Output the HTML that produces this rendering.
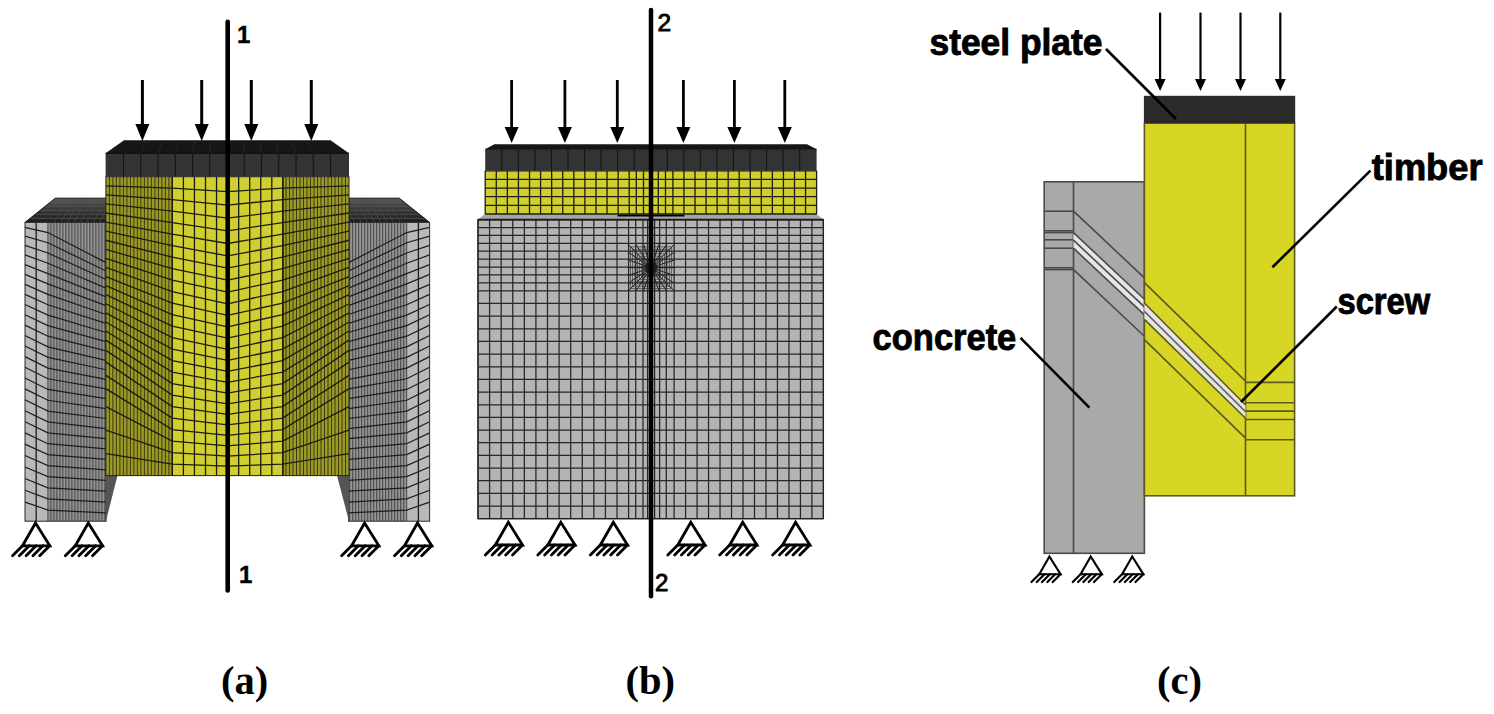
<!DOCTYPE html>
<html><head><meta charset="utf-8"><style>
html,body{margin:0;padding:0;background:#fff;width:1494px;height:714px;overflow:hidden}
svg{display:block}
</style></head><body>
<svg width="1494" height="714" viewBox="0 0 1494 714" shape-rendering="auto">
<defs><linearGradient id="gtop" x1="0" y1="0" x2="0" y2="1"><stop offset="0" stop-color="#5a5a5a"/><stop offset="0.45" stop-color="#3a3a3a"/><stop offset="1" stop-color="#1c1c1c"/></linearGradient></defs>
<rect width="1494" height="714" fill="#fff"/>
<polygon points="25.00,222.40 55.30,198.20 106.00,198.20 106.00,222.40" fill="url(#gtop)" stroke="none" stroke-width="0" />
<line x1="50.25" y1="202.23" x2="106.00" y2="202.23" stroke="#555" stroke-width="0.8" />
<line x1="45.20" y1="206.27" x2="106.00" y2="206.27" stroke="#555" stroke-width="0.8" />
<line x1="40.15" y1="210.30" x2="106.00" y2="210.30" stroke="#555" stroke-width="0.8" />
<line x1="35.10" y1="214.33" x2="106.00" y2="214.33" stroke="#555" stroke-width="0.8" />
<line x1="30.05" y1="218.37" x2="106.00" y2="218.37" stroke="#555" stroke-width="0.8" />
<line x1="54.36" y1="222.40" x2="68.36" y2="198.20" stroke="#4a4a4a" stroke-width="0.7" />
<line x1="60.81" y1="222.40" x2="74.81" y2="198.20" stroke="#4a4a4a" stroke-width="0.7" />
<line x1="67.27" y1="222.40" x2="81.27" y2="198.20" stroke="#4a4a4a" stroke-width="0.7" />
<line x1="73.72" y1="222.40" x2="87.72" y2="198.20" stroke="#4a4a4a" stroke-width="0.7" />
<line x1="80.18" y1="222.40" x2="94.18" y2="198.20" stroke="#4a4a4a" stroke-width="0.7" />
<line x1="86.63" y1="222.40" x2="100.63" y2="198.20" stroke="#4a4a4a" stroke-width="0.7" />
<line x1="93.09" y1="222.40" x2="107.09" y2="198.20" stroke="#4a4a4a" stroke-width="0.7" />
<line x1="99.54" y1="222.40" x2="113.54" y2="198.20" stroke="#4a4a4a" stroke-width="0.7" />
<rect x="25.00" y="222.40" width="22.90" height="298.80" fill="#b9b9b9" stroke="none" stroke-width="0" />
<rect x="47.90" y="222.40" width="58.10" height="298.80" fill="#949494" stroke="none" stroke-width="0" />
<line x1="50.90" y1="222.40" x2="50.90" y2="521.20" stroke="#464646" stroke-width="1" />
<line x1="53.90" y1="222.40" x2="53.90" y2="521.20" stroke="#464646" stroke-width="1" />
<line x1="56.90" y1="222.40" x2="56.90" y2="521.20" stroke="#464646" stroke-width="1" />
<line x1="59.90" y1="222.40" x2="59.90" y2="521.20" stroke="#464646" stroke-width="1" />
<line x1="62.90" y1="222.40" x2="62.90" y2="521.20" stroke="#464646" stroke-width="1" />
<line x1="65.90" y1="222.40" x2="65.90" y2="521.20" stroke="#464646" stroke-width="1" />
<line x1="68.90" y1="222.40" x2="68.90" y2="521.20" stroke="#464646" stroke-width="1" />
<line x1="71.90" y1="222.40" x2="71.90" y2="521.20" stroke="#464646" stroke-width="1" />
<line x1="74.90" y1="222.40" x2="74.90" y2="521.20" stroke="#464646" stroke-width="1" />
<line x1="77.90" y1="222.40" x2="77.90" y2="521.20" stroke="#464646" stroke-width="1" />
<line x1="80.90" y1="222.40" x2="80.90" y2="521.20" stroke="#464646" stroke-width="1" />
<line x1="83.90" y1="222.40" x2="83.90" y2="521.20" stroke="#464646" stroke-width="1" />
<line x1="86.90" y1="222.40" x2="86.90" y2="521.20" stroke="#464646" stroke-width="1" />
<line x1="89.90" y1="222.40" x2="89.90" y2="521.20" stroke="#464646" stroke-width="1" />
<line x1="92.90" y1="222.40" x2="92.90" y2="521.20" stroke="#464646" stroke-width="1" />
<line x1="95.90" y1="222.40" x2="95.90" y2="521.20" stroke="#464646" stroke-width="1" />
<line x1="98.90" y1="222.40" x2="98.90" y2="521.20" stroke="#464646" stroke-width="1" />
<line x1="101.90" y1="222.40" x2="101.90" y2="521.20" stroke="#464646" stroke-width="1" />
<line x1="104.90" y1="222.40" x2="104.90" y2="521.20" stroke="#464646" stroke-width="1" />
<line x1="36.20" y1="222.40" x2="36.20" y2="521.20" stroke="#1e1e1e" stroke-width="1.3" />
<line x1="47.90" y1="222.40" x2="47.90" y2="521.20" stroke="#444" stroke-width="1" />
<path d="M25.00,227.37 L47.90,232.56 L106.00,262.62" stroke="#1e1e1e" stroke-width="1.25" fill="none" />
<path d="M25.00,236.15 L47.90,242.75 L106.00,271.03" stroke="#1e1e1e" stroke-width="1.25" fill="none" />
<path d="M25.00,245.40 L47.90,252.99 L106.00,279.53" stroke="#1e1e1e" stroke-width="1.25" fill="none" />
<path d="M25.00,254.90 L47.90,263.26 L106.00,288.13" stroke="#1e1e1e" stroke-width="1.25" fill="none" />
<path d="M25.00,264.58 L47.90,273.57 L106.00,296.82" stroke="#1e1e1e" stroke-width="1.25" fill="none" />
<path d="M25.00,274.41 L47.90,283.91 L106.00,305.60" stroke="#1e1e1e" stroke-width="1.25" fill="none" />
<path d="M25.00,284.35 L47.90,294.30 L106.00,314.48" stroke="#1e1e1e" stroke-width="1.25" fill="none" />
<path d="M25.00,294.40 L47.90,304.72 L106.00,323.45" stroke="#1e1e1e" stroke-width="1.25" fill="none" />
<path d="M25.00,304.54 L47.90,315.18 L106.00,332.51" stroke="#1e1e1e" stroke-width="1.25" fill="none" />
<path d="M25.00,314.78 L47.90,325.68 L106.00,341.68" stroke="#1e1e1e" stroke-width="1.25" fill="none" />
<path d="M25.00,325.11 L47.90,336.22 L106.00,350.93" stroke="#1e1e1e" stroke-width="1.25" fill="none" />
<path d="M25.00,335.52 L47.90,346.80 L106.00,360.29" stroke="#1e1e1e" stroke-width="1.25" fill="none" />
<path d="M25.00,346.02 L47.90,357.41 L106.00,369.74" stroke="#1e1e1e" stroke-width="1.25" fill="none" />
<path d="M25.00,356.60 L47.90,368.07 L106.00,379.29" stroke="#1e1e1e" stroke-width="1.25" fill="none" />
<path d="M25.00,367.26 L47.90,378.76 L106.00,388.94" stroke="#1e1e1e" stroke-width="1.25" fill="none" />
<path d="M25.00,378.00 L47.90,389.48 L106.00,398.69" stroke="#1e1e1e" stroke-width="1.25" fill="none" />
<path d="M25.00,388.82 L47.90,400.25 L106.00,408.55" stroke="#1e1e1e" stroke-width="1.25" fill="none" />
<path d="M25.00,399.72 L47.90,411.06 L106.00,418.50" stroke="#1e1e1e" stroke-width="1.25" fill="none" />
<path d="M25.00,410.71 L47.90,421.90 L106.00,428.56" stroke="#1e1e1e" stroke-width="1.25" fill="none" />
<path d="M25.00,421.78 L47.90,432.78 L106.00,438.72" stroke="#1e1e1e" stroke-width="1.25" fill="none" />
<path d="M25.00,432.94 L47.90,443.70 L106.00,448.99" stroke="#1e1e1e" stroke-width="1.25" fill="none" />
<path d="M25.00,444.19 L47.90,454.66 L106.00,459.37" stroke="#1e1e1e" stroke-width="1.25" fill="none" />
<path d="M25.00,455.53 L47.90,465.65 L106.00,469.86" stroke="#1e1e1e" stroke-width="1.25" fill="none" />
<path d="M25.00,466.98 L47.90,476.68 L106.00,480.46" stroke="#1e1e1e" stroke-width="1.25" fill="none" />
<path d="M25.00,478.54 L47.90,487.76 L106.00,491.18" stroke="#1e1e1e" stroke-width="1.25" fill="none" />
<path d="M25.00,490.22 L47.90,498.87 L106.00,502.02" stroke="#1e1e1e" stroke-width="1.25" fill="none" />
<path d="M25.00,502.07 L47.90,510.01 L106.00,512.99" stroke="#1e1e1e" stroke-width="1.25" fill="none" />
<rect x="25.00" y="222.40" width="81.00" height="298.80" fill="none" stroke="#2a2a2a" stroke-width="1.0" />
<line x1="25.00" y1="222.40" x2="55.30" y2="198.20" stroke="#111" stroke-width="1" />
<line x1="55.30" y1="198.20" x2="106.00" y2="198.20" stroke="#111" stroke-width="1" />
<polygon points="429.60,222.40 399.30,198.20 348.60,198.20 348.60,222.40" fill="url(#gtop)" stroke="none" stroke-width="0" />
<line x1="404.35" y1="202.23" x2="348.60" y2="202.23" stroke="#555" stroke-width="0.8" />
<line x1="409.40" y1="206.27" x2="348.60" y2="206.27" stroke="#555" stroke-width="0.8" />
<line x1="414.45" y1="210.30" x2="348.60" y2="210.30" stroke="#555" stroke-width="0.8" />
<line x1="419.50" y1="214.33" x2="348.60" y2="214.33" stroke="#555" stroke-width="0.8" />
<line x1="424.55" y1="218.37" x2="348.60" y2="218.37" stroke="#555" stroke-width="0.8" />
<line x1="400.24" y1="222.40" x2="386.24" y2="198.20" stroke="#4a4a4a" stroke-width="0.7" />
<line x1="393.79" y1="222.40" x2="379.79" y2="198.20" stroke="#4a4a4a" stroke-width="0.7" />
<line x1="387.33" y1="222.40" x2="373.33" y2="198.20" stroke="#4a4a4a" stroke-width="0.7" />
<line x1="380.88" y1="222.40" x2="366.88" y2="198.20" stroke="#4a4a4a" stroke-width="0.7" />
<line x1="374.42" y1="222.40" x2="360.42" y2="198.20" stroke="#4a4a4a" stroke-width="0.7" />
<line x1="367.97" y1="222.40" x2="353.97" y2="198.20" stroke="#4a4a4a" stroke-width="0.7" />
<line x1="361.51" y1="222.40" x2="347.51" y2="198.20" stroke="#4a4a4a" stroke-width="0.7" />
<line x1="355.06" y1="222.40" x2="341.06" y2="198.20" stroke="#4a4a4a" stroke-width="0.7" />
<rect x="406.70" y="222.40" width="22.90" height="298.80" fill="#b9b9b9" stroke="none" stroke-width="0" />
<rect x="348.60" y="222.40" width="58.10" height="298.80" fill="#949494" stroke="none" stroke-width="0" />
<line x1="403.70" y1="222.40" x2="403.70" y2="521.20" stroke="#464646" stroke-width="1" />
<line x1="400.70" y1="222.40" x2="400.70" y2="521.20" stroke="#464646" stroke-width="1" />
<line x1="397.70" y1="222.40" x2="397.70" y2="521.20" stroke="#464646" stroke-width="1" />
<line x1="394.70" y1="222.40" x2="394.70" y2="521.20" stroke="#464646" stroke-width="1" />
<line x1="391.70" y1="222.40" x2="391.70" y2="521.20" stroke="#464646" stroke-width="1" />
<line x1="388.70" y1="222.40" x2="388.70" y2="521.20" stroke="#464646" stroke-width="1" />
<line x1="385.70" y1="222.40" x2="385.70" y2="521.20" stroke="#464646" stroke-width="1" />
<line x1="382.70" y1="222.40" x2="382.70" y2="521.20" stroke="#464646" stroke-width="1" />
<line x1="379.70" y1="222.40" x2="379.70" y2="521.20" stroke="#464646" stroke-width="1" />
<line x1="376.70" y1="222.40" x2="376.70" y2="521.20" stroke="#464646" stroke-width="1" />
<line x1="373.70" y1="222.40" x2="373.70" y2="521.20" stroke="#464646" stroke-width="1" />
<line x1="370.70" y1="222.40" x2="370.70" y2="521.20" stroke="#464646" stroke-width="1" />
<line x1="367.70" y1="222.40" x2="367.70" y2="521.20" stroke="#464646" stroke-width="1" />
<line x1="364.70" y1="222.40" x2="364.70" y2="521.20" stroke="#464646" stroke-width="1" />
<line x1="361.70" y1="222.40" x2="361.70" y2="521.20" stroke="#464646" stroke-width="1" />
<line x1="358.70" y1="222.40" x2="358.70" y2="521.20" stroke="#464646" stroke-width="1" />
<line x1="355.70" y1="222.40" x2="355.70" y2="521.20" stroke="#464646" stroke-width="1" />
<line x1="352.70" y1="222.40" x2="352.70" y2="521.20" stroke="#464646" stroke-width="1" />
<line x1="349.70" y1="222.40" x2="349.70" y2="521.20" stroke="#464646" stroke-width="1" />
<line x1="418.40" y1="222.40" x2="418.40" y2="521.20" stroke="#1e1e1e" stroke-width="1.3" />
<line x1="406.70" y1="222.40" x2="406.70" y2="521.20" stroke="#444" stroke-width="1" />
<path d="M429.60,227.37 L406.70,232.56 L348.60,262.62" stroke="#1e1e1e" stroke-width="1.25" fill="none" />
<path d="M429.60,236.15 L406.70,242.75 L348.60,271.03" stroke="#1e1e1e" stroke-width="1.25" fill="none" />
<path d="M429.60,245.40 L406.70,252.99 L348.60,279.53" stroke="#1e1e1e" stroke-width="1.25" fill="none" />
<path d="M429.60,254.90 L406.70,263.26 L348.60,288.13" stroke="#1e1e1e" stroke-width="1.25" fill="none" />
<path d="M429.60,264.58 L406.70,273.57 L348.60,296.82" stroke="#1e1e1e" stroke-width="1.25" fill="none" />
<path d="M429.60,274.41 L406.70,283.91 L348.60,305.60" stroke="#1e1e1e" stroke-width="1.25" fill="none" />
<path d="M429.60,284.35 L406.70,294.30 L348.60,314.48" stroke="#1e1e1e" stroke-width="1.25" fill="none" />
<path d="M429.60,294.40 L406.70,304.72 L348.60,323.45" stroke="#1e1e1e" stroke-width="1.25" fill="none" />
<path d="M429.60,304.54 L406.70,315.18 L348.60,332.51" stroke="#1e1e1e" stroke-width="1.25" fill="none" />
<path d="M429.60,314.78 L406.70,325.68 L348.60,341.68" stroke="#1e1e1e" stroke-width="1.25" fill="none" />
<path d="M429.60,325.11 L406.70,336.22 L348.60,350.93" stroke="#1e1e1e" stroke-width="1.25" fill="none" />
<path d="M429.60,335.52 L406.70,346.80 L348.60,360.29" stroke="#1e1e1e" stroke-width="1.25" fill="none" />
<path d="M429.60,346.02 L406.70,357.41 L348.60,369.74" stroke="#1e1e1e" stroke-width="1.25" fill="none" />
<path d="M429.60,356.60 L406.70,368.07 L348.60,379.29" stroke="#1e1e1e" stroke-width="1.25" fill="none" />
<path d="M429.60,367.26 L406.70,378.76 L348.60,388.94" stroke="#1e1e1e" stroke-width="1.25" fill="none" />
<path d="M429.60,378.00 L406.70,389.48 L348.60,398.69" stroke="#1e1e1e" stroke-width="1.25" fill="none" />
<path d="M429.60,388.82 L406.70,400.25 L348.60,408.55" stroke="#1e1e1e" stroke-width="1.25" fill="none" />
<path d="M429.60,399.72 L406.70,411.06 L348.60,418.50" stroke="#1e1e1e" stroke-width="1.25" fill="none" />
<path d="M429.60,410.71 L406.70,421.90 L348.60,428.56" stroke="#1e1e1e" stroke-width="1.25" fill="none" />
<path d="M429.60,421.78 L406.70,432.78 L348.60,438.72" stroke="#1e1e1e" stroke-width="1.25" fill="none" />
<path d="M429.60,432.94 L406.70,443.70 L348.60,448.99" stroke="#1e1e1e" stroke-width="1.25" fill="none" />
<path d="M429.60,444.19 L406.70,454.66 L348.60,459.37" stroke="#1e1e1e" stroke-width="1.25" fill="none" />
<path d="M429.60,455.53 L406.70,465.65 L348.60,469.86" stroke="#1e1e1e" stroke-width="1.25" fill="none" />
<path d="M429.60,466.98 L406.70,476.68 L348.60,480.46" stroke="#1e1e1e" stroke-width="1.25" fill="none" />
<path d="M429.60,478.54 L406.70,487.76 L348.60,491.18" stroke="#1e1e1e" stroke-width="1.25" fill="none" />
<path d="M429.60,490.22 L406.70,498.87 L348.60,502.02" stroke="#1e1e1e" stroke-width="1.25" fill="none" />
<path d="M429.60,502.07 L406.70,510.01 L348.60,512.99" stroke="#1e1e1e" stroke-width="1.25" fill="none" />
<rect x="348.60" y="222.40" width="81.00" height="298.80" fill="none" stroke="#2a2a2a" stroke-width="1.0" />
<line x1="429.60" y1="222.40" x2="399.30" y2="198.20" stroke="#111" stroke-width="1" />
<line x1="399.30" y1="198.20" x2="348.60" y2="198.20" stroke="#111" stroke-width="1" />
<polygon points="106.00,475.50 117.50,475.50 106.00,521.00" fill="#555555" stroke="none" stroke-width="0" />
<polygon points="348.90,475.50 337.00,475.50 348.90,521.00" fill="#555555" stroke="none" stroke-width="0" />
<rect x="105.90" y="176.70" width="66.40" height="298.90" fill="#9c9a26" stroke="none" stroke-width="0" />
<rect x="282.80" y="176.70" width="66.20" height="298.90" fill="#9c9a26" stroke="none" stroke-width="0" />
<rect x="172.30" y="176.70" width="110.50" height="298.90" fill="#d0ce30" stroke="none" stroke-width="0" />
<line x1="109.40" y1="176.70" x2="109.40" y2="475.60" stroke="#3e3c0e" stroke-width="1" />
<line x1="112.90" y1="176.70" x2="112.90" y2="475.60" stroke="#3e3c0e" stroke-width="1" />
<line x1="116.40" y1="176.70" x2="116.40" y2="475.60" stroke="#3e3c0e" stroke-width="1" />
<line x1="119.90" y1="176.70" x2="119.90" y2="475.60" stroke="#3e3c0e" stroke-width="1" />
<line x1="123.40" y1="176.70" x2="123.40" y2="475.60" stroke="#3e3c0e" stroke-width="1" />
<line x1="126.90" y1="176.70" x2="126.90" y2="475.60" stroke="#3e3c0e" stroke-width="1" />
<line x1="130.40" y1="176.70" x2="130.40" y2="475.60" stroke="#3e3c0e" stroke-width="1" />
<line x1="133.90" y1="176.70" x2="133.90" y2="475.60" stroke="#3e3c0e" stroke-width="1" />
<line x1="137.40" y1="176.70" x2="137.40" y2="475.60" stroke="#3e3c0e" stroke-width="1" />
<line x1="140.90" y1="176.70" x2="140.90" y2="475.60" stroke="#3e3c0e" stroke-width="1" />
<line x1="144.40" y1="176.70" x2="144.40" y2="475.60" stroke="#3e3c0e" stroke-width="1" />
<line x1="147.90" y1="176.70" x2="147.90" y2="475.60" stroke="#3e3c0e" stroke-width="1" />
<line x1="151.40" y1="176.70" x2="151.40" y2="475.60" stroke="#3e3c0e" stroke-width="1" />
<line x1="154.90" y1="176.70" x2="154.90" y2="475.60" stroke="#3e3c0e" stroke-width="1" />
<line x1="158.40" y1="176.70" x2="158.40" y2="475.60" stroke="#3e3c0e" stroke-width="1" />
<line x1="161.90" y1="176.70" x2="161.90" y2="475.60" stroke="#3e3c0e" stroke-width="1" />
<line x1="165.40" y1="176.70" x2="165.40" y2="475.60" stroke="#3e3c0e" stroke-width="1" />
<line x1="168.90" y1="176.70" x2="168.90" y2="475.60" stroke="#3e3c0e" stroke-width="1" />
<line x1="345.50" y1="176.70" x2="345.50" y2="475.60" stroke="#3e3c0e" stroke-width="1" />
<line x1="342.00" y1="176.70" x2="342.00" y2="475.60" stroke="#3e3c0e" stroke-width="1" />
<line x1="338.50" y1="176.70" x2="338.50" y2="475.60" stroke="#3e3c0e" stroke-width="1" />
<line x1="335.00" y1="176.70" x2="335.00" y2="475.60" stroke="#3e3c0e" stroke-width="1" />
<line x1="331.50" y1="176.70" x2="331.50" y2="475.60" stroke="#3e3c0e" stroke-width="1" />
<line x1="328.00" y1="176.70" x2="328.00" y2="475.60" stroke="#3e3c0e" stroke-width="1" />
<line x1="324.50" y1="176.70" x2="324.50" y2="475.60" stroke="#3e3c0e" stroke-width="1" />
<line x1="321.00" y1="176.70" x2="321.00" y2="475.60" stroke="#3e3c0e" stroke-width="1" />
<line x1="317.50" y1="176.70" x2="317.50" y2="475.60" stroke="#3e3c0e" stroke-width="1" />
<line x1="314.00" y1="176.70" x2="314.00" y2="475.60" stroke="#3e3c0e" stroke-width="1" />
<line x1="310.50" y1="176.70" x2="310.50" y2="475.60" stroke="#3e3c0e" stroke-width="1" />
<line x1="307.00" y1="176.70" x2="307.00" y2="475.60" stroke="#3e3c0e" stroke-width="1" />
<line x1="303.50" y1="176.70" x2="303.50" y2="475.60" stroke="#3e3c0e" stroke-width="1" />
<line x1="300.00" y1="176.70" x2="300.00" y2="475.60" stroke="#3e3c0e" stroke-width="1" />
<line x1="296.50" y1="176.70" x2="296.50" y2="475.60" stroke="#3e3c0e" stroke-width="1" />
<line x1="293.00" y1="176.70" x2="293.00" y2="475.60" stroke="#3e3c0e" stroke-width="1" />
<line x1="289.50" y1="176.70" x2="289.50" y2="475.60" stroke="#3e3c0e" stroke-width="1" />
<line x1="286.00" y1="176.70" x2="286.00" y2="475.60" stroke="#3e3c0e" stroke-width="1" />
<line x1="172.35" y1="176.70" x2="172.35" y2="475.60" stroke="#1c1c10" stroke-width="1.3" />
<line x1="183.40" y1="176.70" x2="183.40" y2="475.60" stroke="#1c1c10" stroke-width="1.3" />
<line x1="194.45" y1="176.70" x2="194.45" y2="475.60" stroke="#1c1c10" stroke-width="1.3" />
<line x1="205.50" y1="176.70" x2="205.50" y2="475.60" stroke="#1c1c10" stroke-width="1.3" />
<line x1="216.55" y1="176.70" x2="216.55" y2="475.60" stroke="#1c1c10" stroke-width="1.3" />
<line x1="227.60" y1="176.70" x2="227.60" y2="475.60" stroke="#1c1c10" stroke-width="1.3" />
<line x1="238.65" y1="176.70" x2="238.65" y2="475.60" stroke="#1c1c10" stroke-width="1.3" />
<line x1="249.70" y1="176.70" x2="249.70" y2="475.60" stroke="#1c1c10" stroke-width="1.3" />
<line x1="260.75" y1="176.70" x2="260.75" y2="475.60" stroke="#1c1c10" stroke-width="1.3" />
<line x1="271.80" y1="176.70" x2="271.80" y2="475.60" stroke="#1c1c10" stroke-width="1.3" />
<line x1="282.85" y1="176.70" x2="282.85" y2="475.60" stroke="#1c1c10" stroke-width="1.3" />
<line x1="172.30" y1="176.70" x2="172.30" y2="475.60" stroke="#1c1c10" stroke-width="1.3" />
<line x1="282.80" y1="176.70" x2="282.80" y2="475.60" stroke="#1c1c10" stroke-width="1.3" />
<path d="M105.90,185.78 L172.30,188.20 L227.60,191.55 L282.60,188.20 L349.00,185.78" stroke="#1c1c10" stroke-width="1.3" fill="none" />
<path d="M105.90,194.86 L172.30,199.69 L227.60,205.04 L282.60,199.69 L349.00,194.86" stroke="#1c1c10" stroke-width="1.3" fill="none" />
<path d="M105.90,203.93 L172.30,211.19 L227.60,218.11 L282.60,211.19 L349.00,203.93" stroke="#1c1c10" stroke-width="1.3" fill="none" />
<path d="M105.90,213.01 L172.30,222.68 L227.60,230.92 L282.60,222.68 L349.00,213.01" stroke="#1c1c10" stroke-width="1.3" fill="none" />
<path d="M105.90,222.09 L172.30,234.18 L227.60,243.50 L282.60,234.18 L349.00,222.09" stroke="#1c1c10" stroke-width="1.3" fill="none" />
<path d="M105.90,231.17 L172.30,245.68 L227.60,255.89 L282.60,245.68 L349.00,231.17" stroke="#1c1c10" stroke-width="1.3" fill="none" />
<path d="M105.90,240.25 L172.30,257.17 L227.60,268.10 L282.60,257.17 L349.00,240.25" stroke="#1c1c10" stroke-width="1.3" fill="none" />
<path d="M105.90,249.32 L172.30,268.67 L227.60,280.15 L282.60,268.67 L349.00,249.32" stroke="#1c1c10" stroke-width="1.3" fill="none" />
<path d="M105.90,258.40 L172.30,280.17 L227.60,292.03 L282.60,280.17 L349.00,258.40" stroke="#1c1c10" stroke-width="1.3" fill="none" />
<path d="M105.90,267.48 L172.30,291.66 L227.60,303.77 L282.60,291.66 L349.00,267.48" stroke="#1c1c10" stroke-width="1.3" fill="none" />
<path d="M105.90,276.56 L172.30,303.16 L227.60,315.36 L282.60,303.16 L349.00,276.56" stroke="#1c1c10" stroke-width="1.3" fill="none" />
<path d="M105.90,285.64 L172.30,314.65 L227.60,326.82 L282.60,314.65 L349.00,285.64" stroke="#1c1c10" stroke-width="1.3" fill="none" />
<path d="M105.90,294.71 L172.30,326.15 L227.60,338.15 L282.60,326.15 L349.00,294.71" stroke="#1c1c10" stroke-width="1.3" fill="none" />
<path d="M105.90,303.79 L172.30,337.65 L227.60,349.36 L282.60,337.65 L349.00,303.79" stroke="#1c1c10" stroke-width="1.3" fill="none" />
<path d="M105.90,312.87 L172.30,349.14 L227.60,360.45 L282.60,349.14 L349.00,312.87" stroke="#1c1c10" stroke-width="1.3" fill="none" />
<path d="M105.90,321.95 L172.30,360.64 L227.60,371.43 L282.60,360.64 L349.00,321.95" stroke="#1c1c10" stroke-width="1.3" fill="none" />
<path d="M105.90,331.03 L172.30,372.13 L227.60,382.31 L282.60,372.13 L349.00,331.03" stroke="#1c1c10" stroke-width="1.3" fill="none" />
<path d="M105.90,340.10 L172.30,383.63 L227.60,393.09 L282.60,383.63 L349.00,340.10" stroke="#1c1c10" stroke-width="1.3" fill="none" />
<path d="M105.90,350.40 L172.30,395.13 L227.60,403.79 L282.60,395.13 L349.00,350.40" stroke="#1c1c10" stroke-width="1.3" fill="none" />
<path d="M105.90,362.11 L172.30,406.62 L227.60,414.41 L282.60,406.62 L349.00,362.11" stroke="#1c1c10" stroke-width="1.3" fill="none" />
<path d="M105.90,375.33 L172.30,418.12 L227.60,424.95 L282.60,418.12 L349.00,375.33" stroke="#1c1c10" stroke-width="1.3" fill="none" />
<path d="M105.90,388.67 L172.30,429.62 L227.60,435.42 L282.60,429.62 L349.00,388.67" stroke="#1c1c10" stroke-width="1.3" fill="none" />
<path d="M105.90,406.55 L172.30,441.11 L227.60,445.80 L282.60,441.11 L349.00,406.55" stroke="#1c1c10" stroke-width="1.3" fill="none" />
<path d="M105.90,430.07 L172.30,452.61 L227.60,456.08 L282.60,452.61 L349.00,430.07" stroke="#1c1c10" stroke-width="1.3" fill="none" />
<path d="M105.90,453.60 L172.30,464.10 L227.60,466.20 L282.60,464.10 L349.00,453.60" stroke="#1c1c10" stroke-width="1.3" fill="none" />
<rect x="105.90" y="176.70" width="243.10" height="298.90" fill="none" stroke="#222" stroke-width="1" />
<polygon points="105.60,153.30 124.00,140.20 330.50,140.20 349.00,153.30" fill="#161616" stroke="none" stroke-width="0" />
<rect x="105.60" y="153.30" width="243.40" height="23.40" fill="#333333" stroke="none" stroke-width="0" />
<line x1="123.50" y1="153.30" x2="123.50" y2="176.70" stroke="#141414" stroke-width="1.1" />
<line x1="140.75" y1="153.30" x2="140.75" y2="176.70" stroke="#141414" stroke-width="1.1" />
<line x1="140.75" y1="153.30" x2="146.81" y2="140.20" stroke="#2a2a2a" stroke-width="0.8" />
<line x1="158.00" y1="153.30" x2="158.00" y2="176.70" stroke="#141414" stroke-width="1.1" />
<line x1="158.00" y1="153.30" x2="162.85" y2="140.20" stroke="#2a2a2a" stroke-width="0.8" />
<line x1="175.25" y1="153.30" x2="175.25" y2="176.70" stroke="#141414" stroke-width="1.1" />
<line x1="175.25" y1="153.30" x2="178.89" y2="140.20" stroke="#2a2a2a" stroke-width="0.8" />
<line x1="192.50" y1="153.30" x2="192.50" y2="176.70" stroke="#141414" stroke-width="1.1" />
<line x1="192.50" y1="153.30" x2="194.94" y2="140.20" stroke="#2a2a2a" stroke-width="0.8" />
<line x1="209.75" y1="153.30" x2="209.75" y2="176.70" stroke="#141414" stroke-width="1.1" />
<line x1="209.75" y1="153.30" x2="210.98" y2="140.20" stroke="#2a2a2a" stroke-width="0.8" />
<line x1="227.00" y1="153.30" x2="227.00" y2="176.70" stroke="#141414" stroke-width="1.1" />
<line x1="227.00" y1="153.30" x2="227.02" y2="140.20" stroke="#2a2a2a" stroke-width="0.8" />
<line x1="244.25" y1="153.30" x2="244.25" y2="176.70" stroke="#141414" stroke-width="1.1" />
<line x1="244.25" y1="153.30" x2="243.06" y2="140.20" stroke="#2a2a2a" stroke-width="0.8" />
<line x1="261.50" y1="153.30" x2="261.50" y2="176.70" stroke="#141414" stroke-width="1.1" />
<line x1="261.50" y1="153.30" x2="259.11" y2="140.20" stroke="#2a2a2a" stroke-width="0.8" />
<line x1="278.75" y1="153.30" x2="278.75" y2="176.70" stroke="#141414" stroke-width="1.1" />
<line x1="278.75" y1="153.30" x2="275.15" y2="140.20" stroke="#2a2a2a" stroke-width="0.8" />
<line x1="296.00" y1="153.30" x2="296.00" y2="176.70" stroke="#141414" stroke-width="1.1" />
<line x1="296.00" y1="153.30" x2="291.19" y2="140.20" stroke="#2a2a2a" stroke-width="0.8" />
<line x1="313.25" y1="153.30" x2="313.25" y2="176.70" stroke="#141414" stroke-width="1.1" />
<line x1="313.25" y1="153.30" x2="307.23" y2="140.20" stroke="#2a2a2a" stroke-width="0.8" />
<line x1="330.50" y1="153.30" x2="330.50" y2="176.70" stroke="#141414" stroke-width="1.1" />
<line x1="105.60" y1="153.30" x2="349.00" y2="153.30" stroke="#111" stroke-width="1.2" />
<line x1="142.40" y1="80.00" x2="142.40" y2="126.00" stroke="#000" stroke-width="3" />
<polygon points="135.40,124.00 149.40,124.00 142.40,141.00" fill="#000" stroke="none" stroke-width="0" />
<line x1="201.70" y1="80.00" x2="201.70" y2="126.00" stroke="#000" stroke-width="3" />
<polygon points="194.70,124.00 208.70,124.00 201.70,141.00" fill="#000" stroke="none" stroke-width="0" />
<line x1="251.30" y1="80.00" x2="251.30" y2="126.00" stroke="#000" stroke-width="3" />
<polygon points="244.30,124.00 258.30,124.00 251.30,141.00" fill="#000" stroke="none" stroke-width="0" />
<line x1="311.30" y1="80.00" x2="311.30" y2="126.00" stroke="#000" stroke-width="3" />
<polygon points="304.30,124.00 318.30,124.00 311.30,141.00" fill="#000" stroke="none" stroke-width="0" />
<line x1="227.70" y1="21.80" x2="227.70" y2="590.50" stroke="#000" stroke-width="4.6" stroke-linecap="round"/>
<path d="M22.50,545.80 L35.50,523.00 L49.80,545.80 Z" stroke="#000" stroke-width="2.8" fill="none" stroke-linejoin="miter"/>
<line x1="22.50" y1="545.80" x2="12.50" y2="555.80" stroke="#000" stroke-width="2.8" stroke-linecap="round"/>
<line x1="29.30" y1="545.80" x2="19.30" y2="555.80" stroke="#000" stroke-width="2.8" stroke-linecap="round"/>
<line x1="36.10" y1="545.80" x2="26.10" y2="555.80" stroke="#000" stroke-width="2.8" stroke-linecap="round"/>
<line x1="42.90" y1="545.80" x2="32.90" y2="555.80" stroke="#000" stroke-width="2.8" stroke-linecap="round"/>
<line x1="49.70" y1="545.80" x2="39.70" y2="555.80" stroke="#000" stroke-width="2.8" stroke-linecap="round"/>
<path d="M75.30,545.80 L88.30,523.00 L102.60,545.80 Z" stroke="#000" stroke-width="2.8" fill="none" stroke-linejoin="miter"/>
<line x1="75.30" y1="545.80" x2="65.30" y2="555.80" stroke="#000" stroke-width="2.8" stroke-linecap="round"/>
<line x1="82.10" y1="545.80" x2="72.10" y2="555.80" stroke="#000" stroke-width="2.8" stroke-linecap="round"/>
<line x1="88.90" y1="545.80" x2="78.90" y2="555.80" stroke="#000" stroke-width="2.8" stroke-linecap="round"/>
<line x1="95.70" y1="545.80" x2="85.70" y2="555.80" stroke="#000" stroke-width="2.8" stroke-linecap="round"/>
<line x1="102.50" y1="545.80" x2="92.50" y2="555.80" stroke="#000" stroke-width="2.8" stroke-linecap="round"/>
<path d="M351.60,545.80 L364.60,523.00 L378.90,545.80 Z" stroke="#000" stroke-width="2.8" fill="none" stroke-linejoin="miter"/>
<line x1="351.60" y1="545.80" x2="341.60" y2="555.80" stroke="#000" stroke-width="2.8" stroke-linecap="round"/>
<line x1="358.40" y1="545.80" x2="348.40" y2="555.80" stroke="#000" stroke-width="2.8" stroke-linecap="round"/>
<line x1="365.20" y1="545.80" x2="355.20" y2="555.80" stroke="#000" stroke-width="2.8" stroke-linecap="round"/>
<line x1="372.00" y1="545.80" x2="362.00" y2="555.80" stroke="#000" stroke-width="2.8" stroke-linecap="round"/>
<line x1="378.80" y1="545.80" x2="368.80" y2="555.80" stroke="#000" stroke-width="2.8" stroke-linecap="round"/>
<path d="M404.50,545.80 L417.50,523.00 L431.80,545.80 Z" stroke="#000" stroke-width="2.8" fill="none" stroke-linejoin="miter"/>
<line x1="404.50" y1="545.80" x2="394.50" y2="555.80" stroke="#000" stroke-width="2.8" stroke-linecap="round"/>
<line x1="411.30" y1="545.80" x2="401.30" y2="555.80" stroke="#000" stroke-width="2.8" stroke-linecap="round"/>
<line x1="418.10" y1="545.80" x2="408.10" y2="555.80" stroke="#000" stroke-width="2.8" stroke-linecap="round"/>
<line x1="424.90" y1="545.80" x2="414.90" y2="555.80" stroke="#000" stroke-width="2.8" stroke-linecap="round"/>
<line x1="431.70" y1="545.80" x2="421.70" y2="555.80" stroke="#000" stroke-width="2.8" stroke-linecap="round"/>
<rect x="478.00" y="219.60" width="345.40" height="299.10" fill="#b4b4b4" stroke="none" stroke-width="0" />
<polygon points="478.00,219.60 484.80,214.00 816.60,214.00 823.40,219.60" fill="#a6a6a6" stroke="none" stroke-width="0" />
<line x1="478.00" y1="219.60" x2="478.00" y2="518.70" stroke="#262626" stroke-width="1.25" />
<line x1="489.58" y1="219.60" x2="489.58" y2="518.70" stroke="#262626" stroke-width="1.25" />
<line x1="501.17" y1="219.60" x2="501.17" y2="518.70" stroke="#262626" stroke-width="1.25" />
<line x1="512.75" y1="219.60" x2="512.75" y2="518.70" stroke="#262626" stroke-width="1.25" />
<line x1="524.34" y1="219.60" x2="524.34" y2="518.70" stroke="#262626" stroke-width="1.25" />
<line x1="535.92" y1="219.60" x2="535.92" y2="518.70" stroke="#262626" stroke-width="1.25" />
<line x1="547.51" y1="219.60" x2="547.51" y2="518.70" stroke="#262626" stroke-width="1.25" />
<line x1="559.09" y1="219.60" x2="559.09" y2="518.70" stroke="#262626" stroke-width="1.25" />
<line x1="570.68" y1="219.60" x2="570.68" y2="518.70" stroke="#262626" stroke-width="1.25" />
<line x1="582.26" y1="219.60" x2="582.26" y2="518.70" stroke="#262626" stroke-width="1.25" />
<line x1="593.85" y1="219.60" x2="593.85" y2="518.70" stroke="#262626" stroke-width="1.25" />
<line x1="605.43" y1="219.60" x2="605.43" y2="518.70" stroke="#262626" stroke-width="1.25" />
<line x1="617.02" y1="219.60" x2="617.02" y2="518.70" stroke="#262626" stroke-width="1.25" />
<line x1="628.60" y1="219.60" x2="628.60" y2="518.70" stroke="#262626" stroke-width="1.25" />
<line x1="635.70" y1="219.60" x2="635.70" y2="518.70" stroke="#262626" stroke-width="1.25" />
<line x1="643.00" y1="219.60" x2="643.00" y2="518.70" stroke="#262626" stroke-width="1.25" />
<line x1="647.60" y1="219.60" x2="647.60" y2="518.70" stroke="#262626" stroke-width="1.25" />
<line x1="654.60" y1="219.60" x2="654.60" y2="518.70" stroke="#262626" stroke-width="1.25" />
<line x1="659.60" y1="219.60" x2="659.60" y2="518.70" stroke="#262626" stroke-width="1.25" />
<line x1="666.30" y1="219.60" x2="666.30" y2="518.70" stroke="#262626" stroke-width="1.25" />
<line x1="674.10" y1="219.60" x2="674.10" y2="518.70" stroke="#262626" stroke-width="1.25" />
<line x1="685.58" y1="219.60" x2="685.58" y2="518.70" stroke="#262626" stroke-width="1.25" />
<line x1="697.07" y1="219.60" x2="697.07" y2="518.70" stroke="#262626" stroke-width="1.25" />
<line x1="708.55" y1="219.60" x2="708.55" y2="518.70" stroke="#262626" stroke-width="1.25" />
<line x1="720.04" y1="219.60" x2="720.04" y2="518.70" stroke="#262626" stroke-width="1.25" />
<line x1="731.52" y1="219.60" x2="731.52" y2="518.70" stroke="#262626" stroke-width="1.25" />
<line x1="743.01" y1="219.60" x2="743.01" y2="518.70" stroke="#262626" stroke-width="1.25" />
<line x1="754.49" y1="219.60" x2="754.49" y2="518.70" stroke="#262626" stroke-width="1.25" />
<line x1="765.98" y1="219.60" x2="765.98" y2="518.70" stroke="#262626" stroke-width="1.25" />
<line x1="777.46" y1="219.60" x2="777.46" y2="518.70" stroke="#262626" stroke-width="1.25" />
<line x1="788.95" y1="219.60" x2="788.95" y2="518.70" stroke="#262626" stroke-width="1.25" />
<line x1="800.43" y1="219.60" x2="800.43" y2="518.70" stroke="#262626" stroke-width="1.25" />
<line x1="811.92" y1="219.60" x2="811.92" y2="518.70" stroke="#262626" stroke-width="1.25" />
<line x1="823.40" y1="219.60" x2="823.40" y2="518.70" stroke="#262626" stroke-width="1.25" />
<line x1="478.00" y1="219.60" x2="823.40" y2="219.60" stroke="#262626" stroke-width="1.25" />
<line x1="478.00" y1="227.51" x2="823.40" y2="227.51" stroke="#262626" stroke-width="1.25" />
<line x1="478.00" y1="235.42" x2="823.40" y2="235.42" stroke="#262626" stroke-width="1.25" />
<line x1="478.00" y1="243.33" x2="823.40" y2="243.33" stroke="#262626" stroke-width="1.25" />
<line x1="478.00" y1="251.24" x2="823.40" y2="251.24" stroke="#262626" stroke-width="1.25" />
<line x1="478.00" y1="259.16" x2="823.40" y2="259.16" stroke="#262626" stroke-width="1.25" />
<line x1="478.00" y1="267.07" x2="823.40" y2="267.07" stroke="#262626" stroke-width="1.25" />
<line x1="478.00" y1="274.98" x2="823.40" y2="274.98" stroke="#262626" stroke-width="1.25" />
<line x1="478.00" y1="282.89" x2="823.40" y2="282.89" stroke="#262626" stroke-width="1.25" />
<line x1="478.00" y1="290.80" x2="823.40" y2="290.80" stroke="#262626" stroke-width="1.25" />
<line x1="478.00" y1="303.46" x2="823.40" y2="303.46" stroke="#262626" stroke-width="1.25" />
<line x1="478.00" y1="316.12" x2="823.40" y2="316.12" stroke="#262626" stroke-width="1.25" />
<line x1="478.00" y1="328.78" x2="823.40" y2="328.78" stroke="#262626" stroke-width="1.25" />
<line x1="478.00" y1="341.44" x2="823.40" y2="341.44" stroke="#262626" stroke-width="1.25" />
<line x1="478.00" y1="354.11" x2="823.40" y2="354.11" stroke="#262626" stroke-width="1.25" />
<line x1="478.00" y1="366.77" x2="823.40" y2="366.77" stroke="#262626" stroke-width="1.25" />
<line x1="478.00" y1="379.43" x2="823.40" y2="379.43" stroke="#262626" stroke-width="1.25" />
<line x1="478.00" y1="392.09" x2="823.40" y2="392.09" stroke="#262626" stroke-width="1.25" />
<line x1="478.00" y1="404.75" x2="823.40" y2="404.75" stroke="#262626" stroke-width="1.25" />
<line x1="478.00" y1="417.41" x2="823.40" y2="417.41" stroke="#262626" stroke-width="1.25" />
<line x1="478.00" y1="430.07" x2="823.40" y2="430.07" stroke="#262626" stroke-width="1.25" />
<line x1="478.00" y1="442.73" x2="823.40" y2="442.73" stroke="#262626" stroke-width="1.25" />
<line x1="478.00" y1="455.39" x2="823.40" y2="455.39" stroke="#262626" stroke-width="1.25" />
<line x1="478.00" y1="468.06" x2="823.40" y2="468.06" stroke="#262626" stroke-width="1.25" />
<line x1="478.00" y1="480.72" x2="823.40" y2="480.72" stroke="#262626" stroke-width="1.25" />
<line x1="478.00" y1="493.38" x2="823.40" y2="493.38" stroke="#262626" stroke-width="1.25" />
<line x1="478.00" y1="506.04" x2="823.40" y2="506.04" stroke="#262626" stroke-width="1.25" />
<line x1="478.00" y1="518.70" x2="823.40" y2="518.70" stroke="#262626" stroke-width="1.25" />
<line x1="651.00" y1="267.70" x2="628.40" y2="244.60" stroke="#1a1a1a" stroke-width="1" />
<line x1="651.00" y1="267.70" x2="628.40" y2="290.80" stroke="#1a1a1a" stroke-width="1" />
<line x1="651.00" y1="267.70" x2="636.02" y2="244.60" stroke="#1a1a1a" stroke-width="1" />
<line x1="651.00" y1="267.70" x2="636.02" y2="290.80" stroke="#1a1a1a" stroke-width="1" />
<line x1="651.00" y1="267.70" x2="628.40" y2="252.30" stroke="#1a1a1a" stroke-width="1" />
<line x1="651.00" y1="267.70" x2="674.10" y2="252.30" stroke="#1a1a1a" stroke-width="1" />
<line x1="651.00" y1="267.70" x2="643.63" y2="244.60" stroke="#1a1a1a" stroke-width="1" />
<line x1="651.00" y1="267.70" x2="643.63" y2="290.80" stroke="#1a1a1a" stroke-width="1" />
<line x1="651.00" y1="267.70" x2="628.40" y2="260.00" stroke="#1a1a1a" stroke-width="1" />
<line x1="651.00" y1="267.70" x2="674.10" y2="260.00" stroke="#1a1a1a" stroke-width="1" />
<line x1="651.00" y1="267.70" x2="651.25" y2="244.60" stroke="#1a1a1a" stroke-width="1" />
<line x1="651.00" y1="267.70" x2="651.25" y2="290.80" stroke="#1a1a1a" stroke-width="1" />
<line x1="651.00" y1="267.70" x2="628.40" y2="267.70" stroke="#1a1a1a" stroke-width="1" />
<line x1="651.00" y1="267.70" x2="674.10" y2="267.70" stroke="#1a1a1a" stroke-width="1" />
<line x1="651.00" y1="267.70" x2="658.87" y2="244.60" stroke="#1a1a1a" stroke-width="1" />
<line x1="651.00" y1="267.70" x2="658.87" y2="290.80" stroke="#1a1a1a" stroke-width="1" />
<line x1="651.00" y1="267.70" x2="628.40" y2="275.40" stroke="#1a1a1a" stroke-width="1" />
<line x1="651.00" y1="267.70" x2="674.10" y2="275.40" stroke="#1a1a1a" stroke-width="1" />
<line x1="651.00" y1="267.70" x2="666.48" y2="244.60" stroke="#1a1a1a" stroke-width="1" />
<line x1="651.00" y1="267.70" x2="666.48" y2="290.80" stroke="#1a1a1a" stroke-width="1" />
<line x1="651.00" y1="267.70" x2="628.40" y2="283.10" stroke="#1a1a1a" stroke-width="1" />
<line x1="651.00" y1="267.70" x2="674.10" y2="283.10" stroke="#1a1a1a" stroke-width="1" />
<line x1="651.00" y1="267.70" x2="674.10" y2="244.60" stroke="#1a1a1a" stroke-width="1" />
<line x1="651.00" y1="267.70" x2="674.10" y2="290.80" stroke="#1a1a1a" stroke-width="1" />
<rect x="646.43" y="263.08" width="9.14" height="9.24" fill="none" stroke="#2e2e2e" stroke-width="0.6" />
<rect x="644.14" y="260.77" width="13.71" height="13.86" fill="none" stroke="#2e2e2e" stroke-width="0.6" />
<rect x="641.86" y="258.46" width="18.28" height="18.48" fill="none" stroke="#2e2e2e" stroke-width="0.6" />
<rect x="639.58" y="256.15" width="22.85" height="23.10" fill="none" stroke="#2e2e2e" stroke-width="0.6" />
<rect x="637.29" y="253.84" width="27.42" height="27.72" fill="none" stroke="#2e2e2e" stroke-width="0.6" />
<rect x="635.00" y="251.53" width="31.99" height="32.34" fill="none" stroke="#2e2e2e" stroke-width="0.6" />
<rect x="632.72" y="249.22" width="36.56" height="36.96" fill="none" stroke="#2e2e2e" stroke-width="0.6" />
<rect x="630.43" y="246.91" width="41.13" height="41.58" fill="none" stroke="#2e2e2e" stroke-width="0.6" />
<circle cx="651.0" cy="267.7" r="6.5" fill="#1a1a1a" opacity="0.75"/>
<rect x="478.00" y="219.60" width="345.40" height="299.10" fill="none" stroke="#222" stroke-width="1.2" />
<line x1="478.00" y1="219.60" x2="823.40" y2="219.60" stroke="#1a1a1a" stroke-width="1.6" />
<rect x="485.20" y="170.80" width="331.40" height="43.20" fill="#d0ce30" stroke="none" stroke-width="0" />
<line x1="485.20" y1="170.80" x2="485.20" y2="214.00" stroke="#1c1c10" stroke-width="1.3" />
<line x1="496.28" y1="170.80" x2="496.28" y2="214.00" stroke="#1c1c10" stroke-width="1.3" />
<line x1="507.35" y1="170.80" x2="507.35" y2="214.00" stroke="#1c1c10" stroke-width="1.3" />
<line x1="518.43" y1="170.80" x2="518.43" y2="214.00" stroke="#1c1c10" stroke-width="1.3" />
<line x1="529.51" y1="170.80" x2="529.51" y2="214.00" stroke="#1c1c10" stroke-width="1.3" />
<line x1="540.58" y1="170.80" x2="540.58" y2="214.00" stroke="#1c1c10" stroke-width="1.3" />
<line x1="551.66" y1="170.80" x2="551.66" y2="214.00" stroke="#1c1c10" stroke-width="1.3" />
<line x1="562.74" y1="170.80" x2="562.74" y2="214.00" stroke="#1c1c10" stroke-width="1.3" />
<line x1="573.82" y1="170.80" x2="573.82" y2="214.00" stroke="#1c1c10" stroke-width="1.3" />
<line x1="584.89" y1="170.80" x2="584.89" y2="214.00" stroke="#1c1c10" stroke-width="1.3" />
<line x1="595.97" y1="170.80" x2="595.97" y2="214.00" stroke="#1c1c10" stroke-width="1.3" />
<line x1="607.05" y1="170.80" x2="607.05" y2="214.00" stroke="#1c1c10" stroke-width="1.3" />
<line x1="618.12" y1="170.80" x2="618.12" y2="214.00" stroke="#1c1c10" stroke-width="1.3" />
<line x1="629.20" y1="170.80" x2="629.20" y2="214.00" stroke="#1c1c10" stroke-width="1.3" />
<line x1="636.30" y1="170.80" x2="636.30" y2="214.00" stroke="#1c1c10" stroke-width="1.3" />
<line x1="643.50" y1="170.80" x2="643.50" y2="214.00" stroke="#1c1c10" stroke-width="1.3" />
<line x1="658.30" y1="170.80" x2="658.30" y2="214.00" stroke="#1c1c10" stroke-width="1.3" />
<line x1="665.50" y1="170.80" x2="665.50" y2="214.00" stroke="#1c1c10" stroke-width="1.3" />
<line x1="672.90" y1="170.80" x2="672.90" y2="214.00" stroke="#1c1c10" stroke-width="1.3" />
<line x1="683.95" y1="170.80" x2="683.95" y2="214.00" stroke="#1c1c10" stroke-width="1.3" />
<line x1="695.01" y1="170.80" x2="695.01" y2="214.00" stroke="#1c1c10" stroke-width="1.3" />
<line x1="706.06" y1="170.80" x2="706.06" y2="214.00" stroke="#1c1c10" stroke-width="1.3" />
<line x1="717.12" y1="170.80" x2="717.12" y2="214.00" stroke="#1c1c10" stroke-width="1.3" />
<line x1="728.17" y1="170.80" x2="728.17" y2="214.00" stroke="#1c1c10" stroke-width="1.3" />
<line x1="739.22" y1="170.80" x2="739.22" y2="214.00" stroke="#1c1c10" stroke-width="1.3" />
<line x1="750.28" y1="170.80" x2="750.28" y2="214.00" stroke="#1c1c10" stroke-width="1.3" />
<line x1="761.33" y1="170.80" x2="761.33" y2="214.00" stroke="#1c1c10" stroke-width="1.3" />
<line x1="772.38" y1="170.80" x2="772.38" y2="214.00" stroke="#1c1c10" stroke-width="1.3" />
<line x1="783.44" y1="170.80" x2="783.44" y2="214.00" stroke="#1c1c10" stroke-width="1.3" />
<line x1="794.49" y1="170.80" x2="794.49" y2="214.00" stroke="#1c1c10" stroke-width="1.3" />
<line x1="805.55" y1="170.80" x2="805.55" y2="214.00" stroke="#1c1c10" stroke-width="1.3" />
<line x1="816.60" y1="170.80" x2="816.60" y2="214.00" stroke="#1c1c10" stroke-width="1.3" />
<line x1="485.20" y1="170.80" x2="816.60" y2="170.80" stroke="#1c1c10" stroke-width="1.3" />
<line x1="485.20" y1="179.44" x2="816.60" y2="179.44" stroke="#1c1c10" stroke-width="1.3" />
<line x1="485.20" y1="188.08" x2="816.60" y2="188.08" stroke="#1c1c10" stroke-width="1.3" />
<line x1="485.20" y1="196.72" x2="816.60" y2="196.72" stroke="#1c1c10" stroke-width="1.3" />
<line x1="485.20" y1="205.36" x2="816.60" y2="205.36" stroke="#1c1c10" stroke-width="1.3" />
<line x1="485.20" y1="214.00" x2="816.60" y2="214.00" stroke="#1c1c10" stroke-width="1.3" />
<line x1="617.50" y1="215.60" x2="684.50" y2="215.60" stroke="#000" stroke-width="1.8" />
<polygon points="485.20,149.30 494.30,144.20 807.00,144.20 816.60,149.30" fill="#161616" stroke="none" stroke-width="0" />
<rect x="485.20" y="149.30" width="331.40" height="21.50" fill="#333333" stroke="none" stroke-width="0" />
<line x1="501.75" y1="149.30" x2="501.75" y2="170.80" stroke="#141414" stroke-width="1.1" />
<line x1="518.30" y1="149.30" x2="518.30" y2="170.80" stroke="#141414" stroke-width="1.1" />
<line x1="534.85" y1="149.30" x2="534.85" y2="170.80" stroke="#141414" stroke-width="1.1" />
<line x1="551.40" y1="149.30" x2="551.40" y2="170.80" stroke="#141414" stroke-width="1.1" />
<line x1="567.95" y1="149.30" x2="567.95" y2="170.80" stroke="#141414" stroke-width="1.1" />
<line x1="584.50" y1="149.30" x2="584.50" y2="170.80" stroke="#141414" stroke-width="1.1" />
<line x1="601.05" y1="149.30" x2="601.05" y2="170.80" stroke="#141414" stroke-width="1.1" />
<line x1="617.60" y1="149.30" x2="617.60" y2="170.80" stroke="#141414" stroke-width="1.1" />
<line x1="634.15" y1="149.30" x2="634.15" y2="170.80" stroke="#141414" stroke-width="1.1" />
<line x1="650.70" y1="149.30" x2="650.70" y2="170.80" stroke="#141414" stroke-width="1.1" />
<line x1="667.25" y1="149.30" x2="667.25" y2="170.80" stroke="#141414" stroke-width="1.1" />
<line x1="683.80" y1="149.30" x2="683.80" y2="170.80" stroke="#141414" stroke-width="1.1" />
<line x1="700.35" y1="149.30" x2="700.35" y2="170.80" stroke="#141414" stroke-width="1.1" />
<line x1="716.90" y1="149.30" x2="716.90" y2="170.80" stroke="#141414" stroke-width="1.1" />
<line x1="733.45" y1="149.30" x2="733.45" y2="170.80" stroke="#141414" stroke-width="1.1" />
<line x1="750.00" y1="149.30" x2="750.00" y2="170.80" stroke="#141414" stroke-width="1.1" />
<line x1="766.55" y1="149.30" x2="766.55" y2="170.80" stroke="#141414" stroke-width="1.1" />
<line x1="783.10" y1="149.30" x2="783.10" y2="170.80" stroke="#141414" stroke-width="1.1" />
<line x1="799.65" y1="149.30" x2="799.65" y2="170.80" stroke="#141414" stroke-width="1.1" />
<line x1="485.20" y1="149.30" x2="816.60" y2="149.30" stroke="#111" stroke-width="1.1" />
<line x1="511.60" y1="80.00" x2="511.60" y2="129.00" stroke="#000" stroke-width="2.8" />
<polygon points="504.60,127.00 518.60,127.00 511.60,143.00" fill="#000" stroke="none" stroke-width="0" />
<line x1="564.90" y1="80.00" x2="564.90" y2="129.00" stroke="#000" stroke-width="2.8" />
<polygon points="557.90,127.00 571.90,127.00 564.90,143.00" fill="#000" stroke="none" stroke-width="0" />
<line x1="617.30" y1="80.00" x2="617.30" y2="129.00" stroke="#000" stroke-width="2.8" />
<polygon points="610.30,127.00 624.30,127.00 617.30,143.00" fill="#000" stroke="none" stroke-width="0" />
<line x1="683.40" y1="80.00" x2="683.40" y2="129.00" stroke="#000" stroke-width="2.8" />
<polygon points="676.40,127.00 690.40,127.00 683.40,143.00" fill="#000" stroke="none" stroke-width="0" />
<line x1="734.40" y1="80.00" x2="734.40" y2="129.00" stroke="#000" stroke-width="2.8" />
<polygon points="727.40,127.00 741.40,127.00 734.40,143.00" fill="#000" stroke="none" stroke-width="0" />
<line x1="784.80" y1="80.00" x2="784.80" y2="129.00" stroke="#000" stroke-width="2.8" />
<polygon points="777.80,127.00 791.80,127.00 784.80,143.00" fill="#000" stroke="none" stroke-width="0" />
<line x1="651.00" y1="9.90" x2="651.00" y2="596.30" stroke="#000" stroke-width="4.5" stroke-linecap="round"/>
<path d="M495.30,545.00 L508.30,522.20 L522.60,545.00 Z" stroke="#000" stroke-width="2.8" fill="none" stroke-linejoin="miter"/>
<line x1="495.30" y1="545.00" x2="485.30" y2="555.00" stroke="#000" stroke-width="2.8" stroke-linecap="round"/>
<line x1="502.10" y1="545.00" x2="492.10" y2="555.00" stroke="#000" stroke-width="2.8" stroke-linecap="round"/>
<line x1="508.90" y1="545.00" x2="498.90" y2="555.00" stroke="#000" stroke-width="2.8" stroke-linecap="round"/>
<line x1="515.70" y1="545.00" x2="505.70" y2="555.00" stroke="#000" stroke-width="2.8" stroke-linecap="round"/>
<line x1="522.50" y1="545.00" x2="512.50" y2="555.00" stroke="#000" stroke-width="2.8" stroke-linecap="round"/>
<path d="M547.80,545.00 L560.80,522.20 L575.10,545.00 Z" stroke="#000" stroke-width="2.8" fill="none" stroke-linejoin="miter"/>
<line x1="547.80" y1="545.00" x2="537.80" y2="555.00" stroke="#000" stroke-width="2.8" stroke-linecap="round"/>
<line x1="554.60" y1="545.00" x2="544.60" y2="555.00" stroke="#000" stroke-width="2.8" stroke-linecap="round"/>
<line x1="561.40" y1="545.00" x2="551.40" y2="555.00" stroke="#000" stroke-width="2.8" stroke-linecap="round"/>
<line x1="568.20" y1="545.00" x2="558.20" y2="555.00" stroke="#000" stroke-width="2.8" stroke-linecap="round"/>
<line x1="575.00" y1="545.00" x2="565.00" y2="555.00" stroke="#000" stroke-width="2.8" stroke-linecap="round"/>
<path d="M600.30,545.00 L613.30,522.20 L627.60,545.00 Z" stroke="#000" stroke-width="2.8" fill="none" stroke-linejoin="miter"/>
<line x1="600.30" y1="545.00" x2="590.30" y2="555.00" stroke="#000" stroke-width="2.8" stroke-linecap="round"/>
<line x1="607.10" y1="545.00" x2="597.10" y2="555.00" stroke="#000" stroke-width="2.8" stroke-linecap="round"/>
<line x1="613.90" y1="545.00" x2="603.90" y2="555.00" stroke="#000" stroke-width="2.8" stroke-linecap="round"/>
<line x1="620.70" y1="545.00" x2="610.70" y2="555.00" stroke="#000" stroke-width="2.8" stroke-linecap="round"/>
<line x1="627.50" y1="545.00" x2="617.50" y2="555.00" stroke="#000" stroke-width="2.8" stroke-linecap="round"/>
<path d="M677.80,545.00 L690.80,522.20 L705.10,545.00 Z" stroke="#000" stroke-width="2.8" fill="none" stroke-linejoin="miter"/>
<line x1="677.80" y1="545.00" x2="667.80" y2="555.00" stroke="#000" stroke-width="2.8" stroke-linecap="round"/>
<line x1="684.60" y1="545.00" x2="674.60" y2="555.00" stroke="#000" stroke-width="2.8" stroke-linecap="round"/>
<line x1="691.40" y1="545.00" x2="681.40" y2="555.00" stroke="#000" stroke-width="2.8" stroke-linecap="round"/>
<line x1="698.20" y1="545.00" x2="688.20" y2="555.00" stroke="#000" stroke-width="2.8" stroke-linecap="round"/>
<line x1="705.00" y1="545.00" x2="695.00" y2="555.00" stroke="#000" stroke-width="2.8" stroke-linecap="round"/>
<path d="M729.70,545.00 L742.70,522.20 L757.00,545.00 Z" stroke="#000" stroke-width="2.8" fill="none" stroke-linejoin="miter"/>
<line x1="729.70" y1="545.00" x2="719.70" y2="555.00" stroke="#000" stroke-width="2.8" stroke-linecap="round"/>
<line x1="736.50" y1="545.00" x2="726.50" y2="555.00" stroke="#000" stroke-width="2.8" stroke-linecap="round"/>
<line x1="743.30" y1="545.00" x2="733.30" y2="555.00" stroke="#000" stroke-width="2.8" stroke-linecap="round"/>
<line x1="750.10" y1="545.00" x2="740.10" y2="555.00" stroke="#000" stroke-width="2.8" stroke-linecap="round"/>
<line x1="756.90" y1="545.00" x2="746.90" y2="555.00" stroke="#000" stroke-width="2.8" stroke-linecap="round"/>
<path d="M782.60,545.00 L795.60,522.20 L809.90,545.00 Z" stroke="#000" stroke-width="2.8" fill="none" stroke-linejoin="miter"/>
<line x1="782.60" y1="545.00" x2="772.60" y2="555.00" stroke="#000" stroke-width="2.8" stroke-linecap="round"/>
<line x1="789.40" y1="545.00" x2="779.40" y2="555.00" stroke="#000" stroke-width="2.8" stroke-linecap="round"/>
<line x1="796.20" y1="545.00" x2="786.20" y2="555.00" stroke="#000" stroke-width="2.8" stroke-linecap="round"/>
<line x1="803.00" y1="545.00" x2="793.00" y2="555.00" stroke="#000" stroke-width="2.8" stroke-linecap="round"/>
<line x1="809.80" y1="545.00" x2="799.80" y2="555.00" stroke="#000" stroke-width="2.8" stroke-linecap="round"/>
<rect x="1044.20" y="181.80" width="100.20" height="371.50" fill="#a9a9a9" stroke="#4a4a4a" stroke-width="1.6" />
<line x1="1073.50" y1="181.80" x2="1073.50" y2="553.30" stroke="#4a4a4a" stroke-width="1.6" />
<line x1="1044.20" y1="211.20" x2="1073.50" y2="211.20" stroke="#4a4a4a" stroke-width="1.6" />
<line x1="1044.20" y1="230.80" x2="1073.50" y2="230.80" stroke="#4a4a4a" stroke-width="1.6" />
<line x1="1044.20" y1="232.60" x2="1073.50" y2="232.60" stroke="#4a4a4a" stroke-width="1.6" />
<line x1="1044.20" y1="239.80" x2="1073.50" y2="239.80" stroke="#4a4a4a" stroke-width="1.6" />
<line x1="1044.20" y1="248.20" x2="1073.50" y2="248.20" stroke="#4a4a4a" stroke-width="1.6" />
<line x1="1044.20" y1="267.80" x2="1073.50" y2="267.80" stroke="#4a4a4a" stroke-width="1.6" />
<line x1="1044.20" y1="269.60" x2="1073.50" y2="269.60" stroke="#4a4a4a" stroke-width="1.6" />
<polygon points="1073.50,232.60 1144.40,299.25 1144.40,314.85 1073.50,248.20" fill="#e6e6e6" stroke="none" stroke-width="0" />
<line x1="1073.50" y1="211.20" x2="1144.40" y2="277.85" stroke="#4a4a4a" stroke-width="1.6" />
<line x1="1073.50" y1="232.60" x2="1144.40" y2="299.25" stroke="#4a4a4a" stroke-width="1.6" />
<line x1="1073.50" y1="240.20" x2="1144.40" y2="306.85" stroke="#4a4a4a" stroke-width="1.6" />
<line x1="1073.50" y1="248.20" x2="1144.40" y2="314.85" stroke="#4a4a4a" stroke-width="1.6" />
<line x1="1073.50" y1="269.60" x2="1144.40" y2="336.25" stroke="#4a4a4a" stroke-width="1.6" />
<rect x="1144.40" y="123.20" width="150.20" height="372.60" fill="#d8d624" stroke="#5b5a1c" stroke-width="1.6" />
<line x1="1245.50" y1="123.20" x2="1245.50" y2="495.80" stroke="#5b5a1c" stroke-width="1.6" />
<polygon points="1144.40,303.00 1245.50,405.00 1245.50,418.20 1144.40,319.40" fill="#e6e6e6" stroke="none" stroke-width="0" />
<line x1="1144.40" y1="282.60" x2="1245.50" y2="381.17" stroke="#5b5a1c" stroke-width="1.6" />
<line x1="1144.40" y1="339.60" x2="1245.50" y2="438.17" stroke="#5b5a1c" stroke-width="1.6" />
<line x1="1144.40" y1="303.00" x2="1245.50" y2="405.00" stroke="#5b5a1c" stroke-width="1.6" />
<line x1="1144.40" y1="311.40" x2="1245.50" y2="411.60" stroke="#666" stroke-width="1.6" />
<line x1="1144.40" y1="319.40" x2="1245.50" y2="418.20" stroke="#5b5a1c" stroke-width="1.6" />
<line x1="1245.50" y1="382.40" x2="1294.60" y2="382.40" stroke="#5b5a1c" stroke-width="1.6" />
<line x1="1245.50" y1="402.70" x2="1294.60" y2="402.70" stroke="#5b5a1c" stroke-width="1.6" />
<line x1="1245.50" y1="411.10" x2="1294.60" y2="411.10" stroke="#5b5a1c" stroke-width="1.6" />
<line x1="1245.50" y1="419.50" x2="1294.60" y2="419.50" stroke="#5b5a1c" stroke-width="1.6" />
<line x1="1245.50" y1="439.80" x2="1294.60" y2="439.80" stroke="#5b5a1c" stroke-width="1.6" />
<rect x="1143.90" y="95.80" width="151.30" height="27.40" fill="#2b2b2b" stroke="none" stroke-width="0" />
<line x1="1160.10" y1="12.60" x2="1160.10" y2="81.00" stroke="#000" stroke-width="2.2" />
<polygon points="1154.60,79.00 1165.60,79.00 1160.10,91.00" fill="#000" stroke="none" stroke-width="0" />
<line x1="1200.50" y1="12.60" x2="1200.50" y2="81.00" stroke="#000" stroke-width="2.2" />
<polygon points="1195.00,79.00 1206.00,79.00 1200.50,91.00" fill="#000" stroke="none" stroke-width="0" />
<line x1="1240.50" y1="12.60" x2="1240.50" y2="81.00" stroke="#000" stroke-width="2.2" />
<polygon points="1235.00,79.00 1246.00,79.00 1240.50,91.00" fill="#000" stroke="none" stroke-width="0" />
<line x1="1280.30" y1="12.60" x2="1280.30" y2="81.00" stroke="#000" stroke-width="2.2" />
<polygon points="1274.80,79.00 1285.80,79.00 1280.30,91.00" fill="#000" stroke="none" stroke-width="0" />
<path d="M1039.26,574.28 L1049.40,556.50 L1060.55,574.28 Z" stroke="#000" stroke-width="2.18" fill="none" stroke-linejoin="miter"/>
<line x1="1039.26" y1="574.28" x2="1031.46" y2="582.08" stroke="#000" stroke-width="2.18" stroke-linecap="round"/>
<line x1="1044.56" y1="574.28" x2="1036.76" y2="582.08" stroke="#000" stroke-width="2.18" stroke-linecap="round"/>
<line x1="1049.87" y1="574.28" x2="1042.07" y2="582.08" stroke="#000" stroke-width="2.18" stroke-linecap="round"/>
<line x1="1055.17" y1="574.28" x2="1047.37" y2="582.08" stroke="#000" stroke-width="2.18" stroke-linecap="round"/>
<line x1="1060.48" y1="574.28" x2="1052.68" y2="582.08" stroke="#000" stroke-width="2.18" stroke-linecap="round"/>
<path d="M1080.56,574.28 L1090.70,556.50 L1101.85,574.28 Z" stroke="#000" stroke-width="2.18" fill="none" stroke-linejoin="miter"/>
<line x1="1080.56" y1="574.28" x2="1072.76" y2="582.08" stroke="#000" stroke-width="2.18" stroke-linecap="round"/>
<line x1="1085.86" y1="574.28" x2="1078.06" y2="582.08" stroke="#000" stroke-width="2.18" stroke-linecap="round"/>
<line x1="1091.17" y1="574.28" x2="1083.37" y2="582.08" stroke="#000" stroke-width="2.18" stroke-linecap="round"/>
<line x1="1096.47" y1="574.28" x2="1088.67" y2="582.08" stroke="#000" stroke-width="2.18" stroke-linecap="round"/>
<line x1="1101.78" y1="574.28" x2="1093.98" y2="582.08" stroke="#000" stroke-width="2.18" stroke-linecap="round"/>
<path d="M1122.06,574.28 L1132.20,556.50 L1143.35,574.28 Z" stroke="#000" stroke-width="2.18" fill="none" stroke-linejoin="miter"/>
<line x1="1122.06" y1="574.28" x2="1114.26" y2="582.08" stroke="#000" stroke-width="2.18" stroke-linecap="round"/>
<line x1="1127.36" y1="574.28" x2="1119.56" y2="582.08" stroke="#000" stroke-width="2.18" stroke-linecap="round"/>
<line x1="1132.67" y1="574.28" x2="1124.87" y2="582.08" stroke="#000" stroke-width="2.18" stroke-linecap="round"/>
<line x1="1137.97" y1="574.28" x2="1130.17" y2="582.08" stroke="#000" stroke-width="2.18" stroke-linecap="round"/>
<line x1="1143.28" y1="574.28" x2="1135.48" y2="582.08" stroke="#000" stroke-width="2.18" stroke-linecap="round"/>
<line x1="1106.00" y1="49.00" x2="1176.00" y2="119.00" stroke="#000" stroke-width="2.6" />
<line x1="1370.40" y1="170.60" x2="1272.40" y2="267.30" stroke="#000" stroke-width="2.6" />
<line x1="1336.80" y1="306.50" x2="1241.00" y2="402.00" stroke="#000" stroke-width="2.6" />
<line x1="1020.50" y1="337.80" x2="1089.40" y2="407.60" stroke="#000" stroke-width="2.6" />
<g font-family="Liberation Sans, sans-serif" font-weight="bold" fill="#000">
<g stroke="#000" stroke-width="0.9">
<text x="929.5" y="54.6" font-size="36" textLength="173" lengthAdjust="spacingAndGlyphs">steel plate</text>
<text x="1371.8" y="180.4" font-size="36" textLength="110.7" lengthAdjust="spacingAndGlyphs">timber</text>
<text x="1337.5" y="313.5" font-size="36" textLength="92.7" lengthAdjust="spacingAndGlyphs">screw</text>
<text x="872.6" y="349.6" font-size="36" textLength="143.7" lengthAdjust="spacingAndGlyphs">concrete</text>
</g>
<text x="237" y="43.1" font-size="24" stroke="#000" stroke-width="0.4">1</text>
<text x="239" y="582.8" font-size="24" stroke="#000" stroke-width="0.4">1</text>
<text x="657.5" y="30.6" font-size="24.5" font-weight="normal" stroke="#000" stroke-width="0.9">2</text>
<text x="655" y="591" font-size="24" font-weight="normal" stroke="#000" stroke-width="0.9">2</text>
</g>
<g font-family="Liberation Serif, serif" font-weight="bold" fill="#000">
<text x="221" y="693.5" font-size="40.5">(a)</text>
<text x="625.5" y="693.5" font-size="40.5">(b)</text>
<text x="1157" y="693.5" font-size="40.5">(c)</text>
</g>
</svg>
</body></html>
